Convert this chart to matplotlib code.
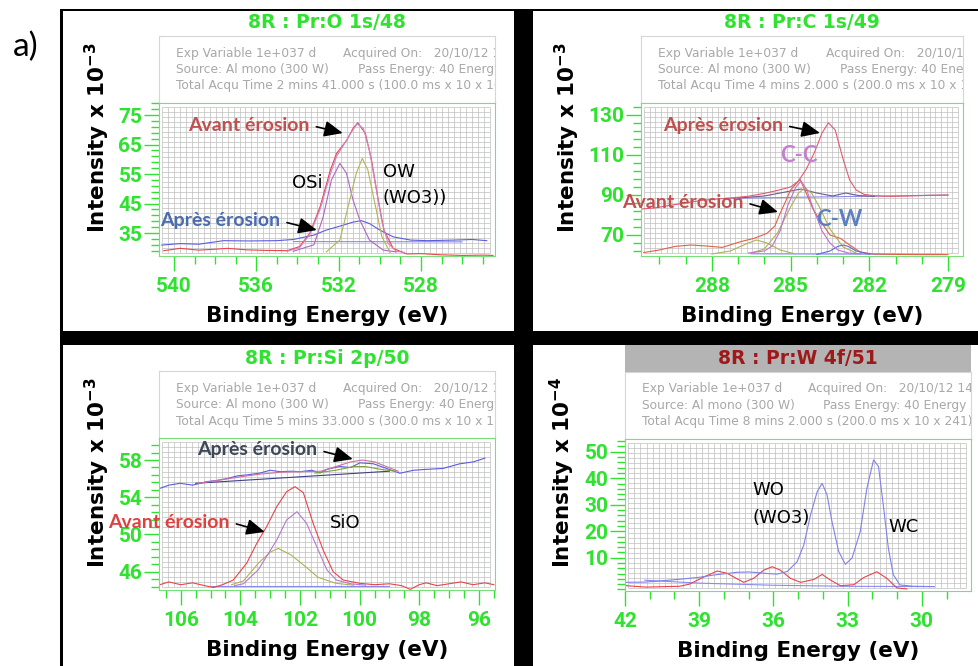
import numpy as np
import matplotlib
matplotlib.use('Agg')
import matplotlib.pyplot as plt
from matplotlib.patches import Rectangle
from matplotlib.ticker import MultipleLocator, AutoMinorLocator

# ---------------- O 1s (top left) ----------------
o_xticks = [540, 536, 532, 528]
o_yticks = [35, 45, 55, 65, 75]
o_be_red = [540.5, 539.7, 538.8, 538.0, 537.4, 536.5, 535.5, 534.5, 533.9, 533.4, 532.9,
            532.4, 532.1, 531.6, 531.3, 531.07, 530.7, 530.4, 530.1, 529.8, 529.35, 528.7,
            528.0, 527.0, 526.0, 525.0, 524.5]
o_int_red = [29.0, 29.8, 29.2, 29.5, 29.8, 29.3, 29.1, 29.0, 30.4, 34.9, 43.9, 56.4, 62.0,
             66.5, 70.5, 72.4, 68.8, 59.7, 47.3, 36.0, 29.8, 27.9, 28.0, 27.6, 27.4, 27.5, 27.4]
o_be_env = [534.5, 533.9, 533.4, 532.9, 532.4, 532.1, 531.7, 531.4, 531.1, 530.8, 530.5,
            530.2, 529.9, 529.6, 529.2, 528.8]
o_int_env = [28.8, 30.0, 34.5, 43.0, 55.0, 61.0, 65.5, 69.0, 72.0, 70.5, 63.0, 51.0, 39.0,
             31.5, 28.8, 28.4]
o_be_blue = [540.6, 539.7, 538.8, 537.6, 536.4, 535.0, 534.2, 533.2, 532.6, 531.9, 531.3,
             530.9, 530.5, 530.0, 529.35, 528.5, 527.7, 526.4, 525.5, 524.8]
o_int_blue = [30.9, 31.4, 31.2, 32.4, 32.3, 32.4, 32.8, 34.3, 36.0, 37.4, 38.7, 39.2, 38.2,
              36.0, 33.7, 32.6, 32.4, 32.6, 32.8, 32.4]
o_be_bg = [534.2, 526.0]
o_int_bg = [32.1, 32.0]
o_be_osi = [534.2, 533.2, 532.75, 532.35, 531.94, 531.62, 531.3, 530.97, 530.5, 529.83, 529.2]
o_int_osi = [28.8, 31.0, 40.5, 53.0, 58.6, 55.3, 46.2, 39.4, 32.6, 29.2, 28.6]
o_be_ow = [532.6, 531.94, 531.46, 531.14, 530.85, 530.58, 530.24, 529.9, 529.5]
o_int_ow = [28.6, 32.6, 46.2, 55.3, 60.3, 56.4, 45.1, 33.8, 28.4]

# ---------------- C 1s (top right) ----------------
c_xticks = [288, 285, 282, 279]
c_yticks = [70, 90, 110, 130]
c_be_apres = [290.7, 290.2, 289.6, 289.0, 288.4, 287.8, 287.2, 286.6, 286.0, 285.5, 285.0,
              284.7, 284.4, 284.1, 283.8, 283.56, 283.3, 283.0, 282.75, 282.5, 282.2, 281.8,
              281.2, 280.5, 279.8, 279.0]
c_int_apres = [83.0, 83.5, 84.8, 86.0, 87.3, 88.0, 88.6, 89.4, 90.8, 92.3, 94.0, 97.0, 103.0,
               111.0, 121.0, 126.1, 122.5, 108.0, 97.5, 92.5, 90.3, 89.6, 89.3, 89.5, 89.8, 90.0]
c_be_comp = [287.0, 286.0, 285.2, 284.6, 284.0, 283.4, 282.9, 282.4, 281.8]
c_int_comp = [88.5, 89.5, 91.5, 93.0, 91.0, 89.5, 91.0, 89.7, 89.3]
c_be_bg = [287.5, 279.0]
c_int_bg = [88.3, 90.0]
c_be_avant = [290.6, 290.0, 289.4, 288.8, 288.2, 287.6, 286.9, 286.4, 285.9, 285.6, 285.4,
              285.2, 285.0, 284.8, 284.64, 284.4, 284.13, 283.8, 283.5, 283.1, 282.75, 282.35,
              281.85, 281.0, 280.0, 279.0]
c_int_avant = [61.2, 62.5, 64.3, 65.0, 64.5, 63.8, 66.7, 68.3, 70.8, 74.5, 80.8, 86.5, 92.5,
               95.5, 97.8, 90.8, 82.5, 75.8, 70.0, 68.3, 65.0, 61.5, 60.5, 60.3, 60.2, 60.2]
c_be_cc = [286.6, 286.0, 285.7, 285.4, 285.1, 284.8, 284.6, 284.4, 284.1, 283.8, 283.5,
           283.2, 282.8, 282.3]
c_int_cc = [61.0, 62.0, 64.5, 72.0, 85.0, 94.0, 97.0, 93.0, 82.0, 72.0, 66.0, 62.5, 61.0, 60.5]
c_be_ol = [286.5, 286.0, 285.5, 285.0, 284.7, 284.45, 284.2, 283.9, 283.5, 283.0, 282.5]
c_int_ol = [61.0, 63.0, 71.0, 84.0, 91.0, 93.5, 91.0, 84.0, 73.0, 64.0, 61.0]
c_be_ol2 = [288.0, 287.3, 286.7, 286.3, 285.9, 285.4, 284.9]
c_int_ol2 = [60.5, 62.0, 65.5, 67.5, 66.0, 62.5, 60.8]
c_be_cw = [284.0, 283.5, 283.2, 283.0, 282.8, 282.5, 282.0]
c_int_cw = [60.3, 62.0, 64.3, 65.0, 64.3, 62.0, 60.4]
c_be_bg2 = [286.5, 279.2]
c_int_bg2 = [60.6, 60.3]

# ---------------- Si 2p (bottom left) ----------------
s_xticks = [106, 104, 102, 100, 98, 96]
s_yticks = [46, 50, 54, 58]
s_be_avant = [106.7, 106.4, 106.0, 105.6, 105.2, 104.9, 104.6, 104.24, 103.79, 103.45, 103.12,
              102.78, 102.45, 102.17, 101.89, 101.56, 101.22, 100.89, 100.55, 100.0, 99.5,
              99.0, 98.6, 98.3, 98.0, 97.77, 97.4, 97.0, 96.6, 96.2, 95.8, 95.5]
s_int_avant = [44.6, 44.9, 44.6, 44.8, 44.5, 44.3, 44.6, 45.1, 46.9, 49.05, 50.84, 52.99, 54.6,
               55.14, 54.5, 51.2, 48.3, 46.0, 45.1, 44.75, 44.6, 44.7, 44.5, 44.1, 44.6, 44.8,
               44.5, 44.7, 44.9, 44.6, 44.8, 44.6]
s_be_sio = [104.2, 103.9, 103.4, 102.78, 102.45, 102.1, 101.78, 101.44, 101.1, 100.78, 100.3, 99.8]
s_int_sio = [44.5, 44.7, 46.2, 49.4, 51.56, 52.45, 51.2, 48.7, 46.2, 45.1, 44.7, 44.55]
s_be_ol = [104.3, 103.9, 103.4, 103.0, 102.73, 102.3, 101.8, 101.4, 100.8, 100.2]
s_int_ol = [44.6, 45.0, 46.9, 48.1, 48.5, 47.8, 46.5, 45.4, 44.75, 44.55]
s_be_bg = [105.0, 99.0]
s_int_bg = [44.5, 44.5]
s_be_apres = [106.69, 106.4, 106.02, 105.6, 105.13, 104.8, 104.46, 104.1, 103.79, 103.35, 103.0,
              102.67, 102.3, 102.0, 101.6, 101.33, 101.1, 100.67, 100.3, 99.99, 99.54, 99.1,
              98.65, 98.2, 97.76, 97.2, 96.64, 96.19, 95.8]
s_int_apres = [54.97, 55.3, 55.5, 55.3, 55.68, 55.8, 56.0, 56.3, 56.4, 56.6, 56.9, 56.75, 56.8,
               56.75, 56.9, 56.6, 57.0, 57.3, 57.2, 57.7, 57.6, 57.1, 56.58, 56.9, 57.0, 57.1,
               57.6, 57.8, 58.2]
s_be_env = [105.4, 104.8, 104.0, 103.3, 102.6, 101.9, 101.3, 100.8, 100.3, 99.9, 99.5, 99.1, 98.7]
s_int_env = [55.5, 55.8, 56.2, 56.5, 56.7, 56.75, 56.8, 57.3, 57.8, 58.0, 57.8, 57.3, 56.8]
s_be_apbg = [105.5, 99.0]
s_int_apbg = [55.5, 56.8]
s_be_apc = [101.5, 100.8, 100.2, 99.8, 99.3, 98.8]
s_int_apc = [56.6, 56.9, 57.3, 57.3, 57.0, 56.8]

# ---------------- W 4f (bottom right) ----------------
w_xticks = [42, 39, 36, 33, 30]
w_yticks = [10, 20, 30, 40, 50]
w_be_blue = [41.95, 41.15, 40.5, 39.8, 39.0, 38.41, 37.9, 37.47, 37.0, 36.66, 36.2, 35.85, 35.44,
             35.04, 34.77, 34.5, 34.23, 34.03, 33.83, 33.63, 33.36, 33.09, 32.82, 32.49, 32.22,
             31.95, 31.75, 31.54, 31.35, 31.15, 30.88, 30.33, 29.5]
w_int_blue = [0.7, 0.8, 1.3, 1.85, 2.6, 3.47, 4.0, 4.5, 4.6, 4.4, 4.0, 3.8, 4.8, 8.5, 14.8, 26.1,
              34.9, 38.07, 33.7, 23.6, 12.3, 7.5, 9.9, 19.8, 36.2, 46.9, 44.4, 28.6, 13.5, 3.5,
              -0.3, -0.8, -0.9]
w_be_red = [41.95, 41.15, 40.3, 39.8, 39.4, 38.86, 38.27, 37.87, 37.5, 37.2, 36.8, 36.39, 36.05,
            35.72, 35.31, 34.9, 34.36, 34.03, 33.7, 33.29, 32.75, 32.35, 31.82, 31.41, 31.01, 30.6]
w_int_red = [-0.57, -1.1, -0.9, -0.8, 0.0, 2.5, 4.98, 4.1, 2.2, 0.7, 2.2, 5.3, 6.6, 5.3, 2.2, 0.7,
             1.8, 3.7, 1.6, -0.57, -0.2, 2.5, 4.7, 2.2, -1.4, -1.8]
w_be_bg = [41.2, 39.0, 36.0, 33.0, 29.5]
w_int_bg = [1.5, 0.4, -0.4, -0.8, -0.9]

W, H = 979, 666
GREEN = '#2fe22f'
FRAME = '#78e078'
GRIDC = '#bfbfbf'
INFOC = '#a8a8a8'
CALIBRI = ['Lato', 'DejaVu Sans']
ARIAL = ['Roboto', 'DejaVu Sans']
WIDE = ['DejaVu Sans']

plt.rcParams['font.family'] = ARIAL
plt.rcParams['mathtext.fontset'] = 'dejavusans'

fig = plt.figure(figsize=(W / 100, H / 100), dpi=100)


def fbox(x0, y0, x1, y1):
    return [x0 / W, 1 - y1 / H, (x1 - x0) / W, (y1 - y0) / H]


def frect(x0, y0, x1, y1, color, z):
    fig.patches.append(Rectangle((x0 / W, 1 - y1 / H), (x1 - x0) / W, (y1 - y0) / H,
                                 transform=fig.transFigure, color=color, lw=0, zorder=z))


def ftext(x, y, s, **kw):
    fig.text(x / W, 1 - y / H, s, **kw)


# black frame with four white panels
frect(60, 9, 979, 666, 'black', -3)
for p in [(63, 11, 514, 331), (533, 11, 979, 331), (63, 345, 514, 666), (533, 345, 979, 666)]:
    frect(*p, 'white', -2)

ftext(26, 47, 'a)', fontsize=24, family=CALIBRI, ha='center', va='center')


def panel(rect, title, info_x, total, xticks, yticks, xlim, ylim, xminor, ylab_xy, expo,
          title_bar=False):
    x0, y0, x1, y1 = rect
    # acquisition info box
    iax = fig.add_axes(fbox(x0, y0 - 67, x1, y0))
    iax.set_xticks([])
    iax.set_yticks([])
    for s in iax.spines.values():
        s.set_color('#d6d6d6')
    rows = [('Exp Variable 1e+037 d', 'Acquired On:   20/10/12 14:39:23', info_x[1]),
            ('Source: Al mono (300 W)', 'Pass Energy: 40 Energy Step Size 0.100 eV', info_x[2]),
            (total, None, None)]
    for k, (a, b, xb) in enumerate(rows):
        yy = (50 - 16.5 * k) / 67
        iax.text((info_x[0] - x0) / (x1 - x0), yy, a, transform=iax.transAxes, fontsize=8.8,
                 family=WIDE, color=INFOC, va='center', clip_on=True)
        if b:
            iax.text((xb - x0) / (x1 - x0), yy, b, transform=iax.transAxes, fontsize=8.8,
                     family=WIDE, color=INFOC, va='center', clip_on=True)

    tcolor = GREEN
    if title_bar:
        frect(x0, y0 - 94, x1, y0 - 67, '#b4b4b4', -1)
        tcolor = '#9e1a1a'
    ftext((x0 + x1) / 2, y0 - 80, title, fontsize=13.5, fontweight='bold', color=tcolor,
          family=WIDE, ha='center', va='center')

    ftext(ylab_xy[0], ylab_xy[1], 'Intensity x 10$^{\\mathbf{' + expo + '}}$', rotation=90,
          fontsize=15.5, fontweight='bold', family=WIDE, ha='center', va='center')
    ftext((x0 + x1) / 2, y1 + 60, 'Binding Energy (eV)', fontsize=15.5, fontweight='bold',
          family=WIDE, ha='center', va='center')

    ax = fig.add_axes(fbox(x0, y0, x1, y1))
    ax.vlines(np.linspace(0.009, 0.985, 56), 0.02, 0.975, transform=ax.transAxes,
              color=GRIDC, lw=0.5, zorder=0)
    ax.hlines(np.linspace(0.02, 0.975, 30), 0.009, 0.985, transform=ax.transAxes,
              color=GRIDC, lw=0.5, zorder=0)
    ax.set_xticks(xticks, [str(t) for t in xticks], fontweight='bold')
    ax.set_yticks(yticks, [str(t) for t in yticks], fontweight='bold')
    ax.xaxis.set_minor_locator(MultipleLocator(xminor))
    ax.yaxis.set_minor_locator(AutoMinorLocator(5))
    ax.set_xlim(xlim)
    ax.set_ylim(ylim)
    ax.tick_params(which='both', direction='out', color=GREEN, labelcolor=GREEN, width=1,
                   labelsize=15)
    ax.tick_params(which='major', length=11)
    ax.tick_params(which='minor', length=6)
    ax.tick_params(axis='x', pad=4)
    ax.tick_params(axis='y', pad=1)
    for s in ax.spines.values():
        s.set_color(FRAME)
    return ax


def note(ax, txt, xy, xytext, color, size=14):
    ax.annotate(txt, xy=xy, xytext=xytext, ha='left', va='center', color=color,
                fontsize=size, fontweight='bold', family=CALIBRI, annotation_clip=False,
                arrowprops=dict(arrowstyle='-|>,head_length=0.8,head_width=0.35',
                                color='black', lw=1.2, relpos=(1, 0.5), shrinkA=3, shrinkB=0,
                                mutation_scale=14))


def word(ax, txt, xy, size=13, color='black', family=None, ha='left'):
    ax.text(xy[0], xy[1], txt, fontsize=size, color=color, ha=ha, va='center',
            family=family if family else WIDE, fontweight='bold' if family else 'normal')


LW = 0.8

# ---- O 1s ----
ax = panel((159, 103, 495, 256), '8R : Pr:O 1s/48', (176, 343, 358),
           'Total Acqu Time 2 mins 41.000 s (100.0 ms x 10 x 161)',
           o_xticks, o_yticks, (540.73, 524.4), (27.2, 79.1), 1, (97, 138), '-3')
ax.plot(o_be_bg, o_int_bg, color='#8a8af0', lw=LW)
ax.plot(o_be_blue, o_int_blue, color='#5c5ce0', lw=LW)
ax.plot(o_be_red, o_int_red, color='#e8444a', lw=LW)
ax.plot(o_be_env, o_int_env, color='#d084c8', lw=LW)
ax.plot(o_be_osi, o_int_osi, color='#b066c6', lw=LW)
ax.plot(o_be_ow, o_int_ow, color='#b4b456', lw=LW)
note(ax, 'Avant érosion', (531.8, 68.9), (539.32, 71.6), '#c0504d')
note(ax, 'Après érosion', (533.06, 36.0), (540.68, 39.1), '#4a6ab2')
word(ax, 'OSi', (533.5, 51.9), ha='center')
word(ax, 'OW', (529.85, 55.7))
word(ax, '(WO3))', (529.85, 46.9))

# ---- C 1s ----
ax = panel((641, 103, 963, 256), '8R : Pr:C 1s/49', (658, 826, 840),
           'Total Acqu Time 4 mins 2.000 s (200.0 ms x 10 x 121)',
           c_xticks, c_yticks, (290.7, 278.43), (59.5, 136.0), 1, (567, 138), '-3')
ax.plot(c_be_bg, c_int_bg, color='#8a8af0', lw=LW)
ax.plot(c_be_bg2, c_int_bg2, color='#8a8af0', lw=LW)
ax.plot(c_be_comp, c_int_comp, color='#6a5a92', lw=LW)
ax.plot(c_be_apres, c_int_apres, color='#e25a70', lw=LW)
ax.plot(c_be_avant, c_int_avant, color='#e0604a', lw=LW)
ax.plot(c_be_ol2, c_int_ol2, color='#b0b056', lw=LW)
ax.plot(c_be_ol, c_int_ol, color='#b0b056', lw=LW)
ax.plot(c_be_cw, c_int_cw, color='#5a6ad8', lw=LW)
ax.plot(c_be_cc, c_int_cc, color='#c070d0', lw=LW)
note(ax, 'Après érosion', (283.88, 121.0), (289.87, 125.0), '#c0504d')
note(ax, 'Avant érosion', (285.48, 81.5), (291.43, 86.5), '#c0504d')
word(ax, 'C-C', (284.68, 109.5), size=16, color='#c47fd0', family=CALIBRI, ha='center')
word(ax, 'C-W', (283.13, 77.5), size=16, color='#5b7fc0', family=CALIBRI, ha='center')

# ---- Si 2p ----
ax = panel((159, 438, 495, 590), '8R : Pr:Si 2p/50', (176, 343, 358),
           'Total Acqu Time 5 mins 33.000 s (300.0 ms x 10 x 111)',
           s_xticks, s_yticks, (106.73, 95.46), (44.03, 60.37), 0.5, (97, 473), '-3')
ax.plot(s_be_bg, s_int_bg, color='#8a8af0', lw=LW)
ax.plot(s_be_apbg, s_int_apbg, color='#404088', lw=LW)
ax.plot(s_be_apres, s_int_apres, color='#5c5ce0', lw=LW)
ax.plot(s_be_env, s_int_env, color='#d070a0', lw=LW)
ax.plot(s_be_apc, s_int_apc, color='#80a040', lw=LW)
ax.plot(s_be_avant, s_int_avant, color='#e8444a', lw=LW)
ax.plot(s_be_ol, s_int_ol, color='#b0b056', lw=LW)
ax.plot(s_be_sio, s_int_sio, color='#b47ad0', lw=LW)
note(ax, 'Après érosion', (100.23, 58.1), (105.45, 59.1), '#3c4858')
note(ax, 'Avant érosion', (103.18, 50.27), (108.44, 51.34), '#e04040')
word(ax, 'SiO', (100.5, 51.2), ha='center')

# ---- W 4f ----
ax = panel((625, 439, 971, 591), '8R : Pr:W 4f/51', (642, 808, 823),
           'Total Acqu Time 8 mins 2.000 s (200.0 ms x 10 x 241)',
           w_xticks, w_yticks, (42.0, 28.01), (-2.57, 54.8), 1, (562, 472), '-4',
           title_bar=True)
ax.plot(w_be_bg, w_int_bg, color='#8a8af0', lw=LW)
ax.plot(w_be_red, w_int_red, color='#e8444a', lw=LW)
ax.plot(w_be_blue, w_int_blue, color='#8080ec', lw=LW)
word(ax, 'WO', (36.85, 35.5))
word(ax, '(WO3)', (36.85, 25.0))
word(ax, 'WC', (31.36, 21.6))

fig.savefig('out.png', dpi=100)
